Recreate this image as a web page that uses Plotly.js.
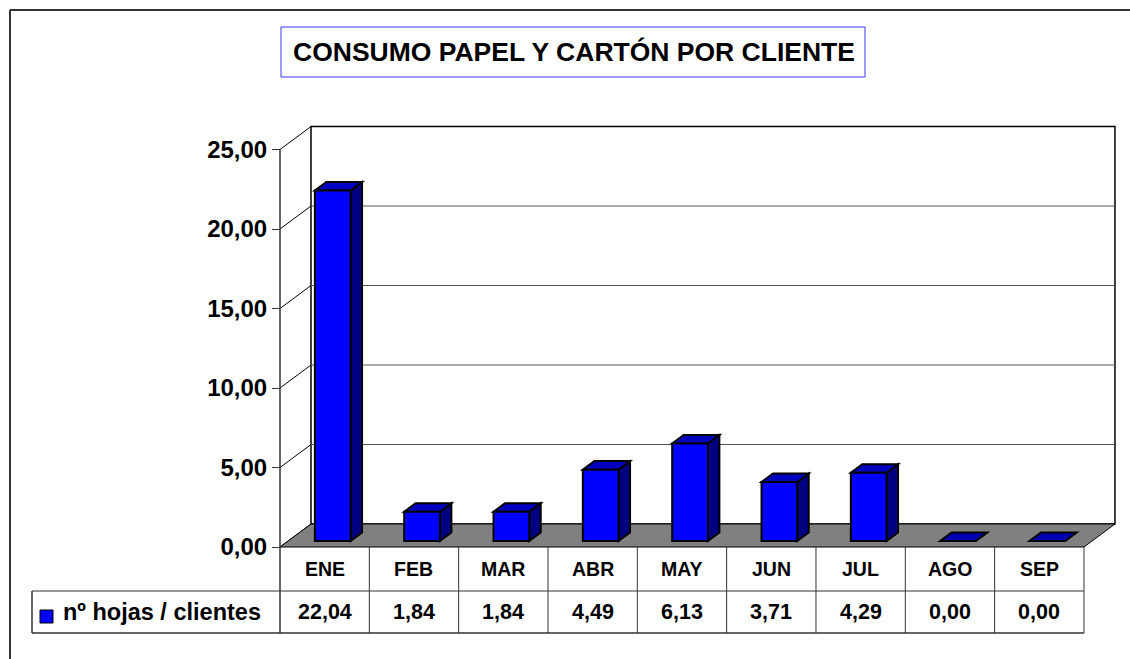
<!DOCTYPE html>
<html>
<head>
<meta charset="utf-8">
<script src="https://cdn.plot.ly/plotly-3.0.1.min.js"></script>
<style>html,body{margin:0;padding:0;background:#fff;}#chart{width:1130px;height:659px;}</style>
</head>
<body>
<div id="chart"></div>
<script>
// ---- data ----
const categories = ['ENE','FEB','MAR','ABR','MAY','JUN','JUL','AGO','SEP'];
const values = [22.04, 1.84, 1.84, 4.49, 6.13, 3.71, 4.29, 0.00, 0.00];
const seriesName = 'nº hojas / clientes';
const yTickVals = [0, 5, 10, 15, 20, 25];
const yTickText = ['0,00', '5,00', '10,00', '15,00', '20,00', '25,00'];
const chartTitle = 'CONSUMO PAPEL Y CARTÓN POR CLIENTE';

// ---- geometry (pixel layout of the 3D frame) ----
const W = 1130, H = 659;
const axPx = 280, colPx = 89.33, y0Px = 547, ppu = 15.9;
const depthPx = [31, 23];
const xRange = [(0 - axPx) / colPx - 0.5, (W - axPx) / colPx - 0.5];
const yRange = [(y0Px - H) / ppu, y0Px / ppu];
const Dx = depthPx[0] / colPx, Dy = depthPx[1] / ppu;
const yMax = 25;
const n = categories.length;
const xL = -0.5, xR = n - 0.5;
const t0 = 0.26, t1 = 0.63, halfW = 0.2;
const row1 = (y0Px - 569) / ppu, rowLine = (y0Px - 591) / ppu, row2 = (y0Px - 612) / ppu, tblBot = (y0Px - 633) / ppu;
const legX0 = (32 - axPx) / colPx - 0.5;
const fmt = v => v.toFixed(2).replace('.', ',');

const shapes = [];
const line = (x0, y0, x1, y1, color, width) => shapes.push({type:'line', xref:'x', yref:'y', x0, y0, x1, y1, layer:'below', line:{color, width}});
const poly = (pts, fill, lc, lw) => shapes.push({type:'path', xref:'x', yref:'y', layer:'below',
  path: 'M' + pts.map(p => p[0] + ',' + p[1]).join(' L') + ' Z', fillcolor: fill, line:{color: lc, width: lw}});

// back wall
poly([[xL + Dx, Dy], [xR + Dx, Dy], [xR + Dx, yMax + Dy], [xL + Dx, yMax + Dy]], '#ffffff', '#000000', 1.5);
// gridlines on back wall
yTickVals.forEach(v => { if (v > 0 && v < yMax) line(xL + Dx, v + Dy, xR + Dx, v + Dy, '#555555', 1); });
// side wall diagonals
yTickVals.forEach(v => line(xL, v, xL + Dx, v + Dy, '#000000', 1));
// floor
poly([[xL, 0], [xR, 0], [xR + Dx, Dy], [xL + Dx, Dy]], '#808080', '#000000', 1);

// bar top & side faces
const bx = [], bbase = [];
values.forEach((v, i) => {
  const fx0 = i - halfW + t0 * Dx, fx1 = i + halfW + t0 * Dx;
  const fb = t0 * Dy, ft = t0 * Dy + v;
  const ox = (t1 - t0) * Dx, oy = (t1 - t0) * Dy;
  bx.push(i + t0 * Dx); bbase.push(fb);
  if (v > 0) poly([[fx1, fb], [fx1 + ox, fb + oy], [fx1 + ox, ft + oy], [fx1, ft]], '#000080', '#000000', 2);
  poly([[fx0, ft], [fx1, ft], [fx1 + ox, ft + oy], [fx0 + ox, ft + oy]], v > 0 ? '#0000c0' : '#0000b0', '#000000', 2);
});

// front axis line & table
line(xL, yMax, xL, tblBot, '#333333', 1.5);
line(legX0, rowLine, xR, rowLine, '#333333', 1);
line(legX0, tblBot, xR, tblBot, '#333333', 1.5);
line(legX0, rowLine, legX0, tblBot, '#333333', 1.5);
for (let i = 1; i <= n; i++) line(i - 0.5, 0, i - 0.5, tblBot, '#333333', 1);
// legend key
const kx0 = (40 - axPx) / colPx - 0.5, kx1 = (53 - axPx) / colPx - 0.5;
shapes.push({type:'rect', xref:'x', yref:'y', x0:kx0, x1:kx1, y0:(y0Px - 623) / ppu, y1:(y0Px - 610) / ppu, fillcolor:'#0000ff', line:{color:'#000000', width:1}, layer:'above'});

// title box & outer border (paper)
shapes.push({type:'rect', xref:'paper', yref:'paper', x0:281 / W, x1:865 / W, y0:1 - 77 / H, y1:1 - 27 / H, line:{color:'#3a3aff', width:1}, fillcolor:'rgba(0,0,0,0)'});
shapes.push({type:'line', xref:'paper', yref:'paper', x0:10 / W, x1:1, y0:1 - 10 / H, y1:1 - 10 / H, line:{color:'#333333', width:2}});
shapes.push({type:'line', xref:'paper', yref:'paper', x0:10 / W, x1:10 / W, y0:0, y1:1 - 10 / H, line:{color:'#333333', width:2}});

const bold = (size) => ({family:'Liberation Sans, Arial, sans-serif', size, color:'#000000', weight:'bold'});
const annotations = [];
categories.forEach((c, i) => {
  annotations.push({x:i, y:row1, xref:'x', yref:'y', text:c, showarrow:false, font:bold(19.5), xanchor:'center', yanchor:'middle'});
  annotations.push({x:i, y:row2, xref:'x', yref:'y', text:fmt(values[i]), showarrow:false, font:bold(21.5), xanchor:'center', yanchor:'middle'});
});
annotations.push({x:(61 - axPx) / colPx - 0.5, y:row2, xref:'x', yref:'y', text:seriesName, showarrow:false, font:bold(23.5), xanchor:'left', yanchor:'middle'});

const trace = {
  type:'bar', x:bx, y:values, base:bbase, width:2 * halfW, name:seriesName,
  marker:{color:'#0000ff', line:{color:'#000000', width:2}}, hoverinfo:'skip', showlegend:false
};

const layout = {
  width:W, height:H, margin:{l:0, r:0, t:0, b:0},
  paper_bgcolor:'#ffffff', plot_bgcolor:'rgba(0,0,0,0)',
  title:{text:chartTitle, x:574 / W, y:1 - 52 / H, xref:'paper', yref:'container', xanchor:'center', yanchor:'middle', font:bold(26.5)},
  xaxis:{range:xRange, visible:false, fixedrange:true},
  yaxis:{range:yRange, anchor:'free', position:axPx / W, tickmode:'array', tickvals:yTickVals, ticktext:yTickText,
         ticks:'outside', ticklen:8, tickwidth:1, tickcolor:'#333333', showgrid:false, zeroline:false, showline:false,
         tickfont:bold(24), automargin:false, fixedrange:true},
  shapes, annotations, showlegend:false
};
Plotly.newPlot('chart', [trace], layout, {displayModeBar:false, staticPlot:true});
</script>
</body>
</html>
